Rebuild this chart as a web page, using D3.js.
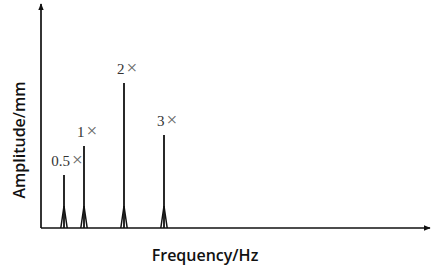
<!DOCTYPE html>
<html>
<head>
<meta charset="utf-8">
<script src="https://cdn.jsdelivr.net/npm/d3@7"></script>
<style>
  body { margin: 0; background: #fff; }
  svg { display: block; }
</style>
</head>
<body>
<div id="chart"></div>
<script>
// harmonic orders, amplitudes and labels
const orders = [0.5, 1, 2, 3];
const amplitudes = [0.53, 0.82, 1.45, 0.93];
const peakLabels = ["0.5", "1", "2", "3"];

const width = 440;
const height = 275;
const margin = {left: 41, right: 10, top: 4, bottom: 47};

const svg = d3.select("#chart")
  .append("svg")
  .attr("width", width)
  .attr("height", height);

let xScale = d3.scaleLinear()
  .domain([0, 9.6])
  .range([44, 428]);

let yScale = d3.scaleLinear()
  .domain([0, 2.24])
  .range([height - margin.bottom, margin.top]);

const base = yScale(0);

// arrowhead
svg.append("defs").append("marker")
  .attr("id", "arrow")
  .attr("viewBox", "0 0 10 10")
  .attr("refX", 9).attr("refY", 5)
  .attr("markerWidth", 7).attr("markerHeight", 7)
  .attr("markerUnits", "userSpaceOnUse")
  .attr("orient", "auto")
  .append("path")
  .attr("d", "M0,1L10,5L0,9Z")
  .attr("fill", "#111");

// axes
svg.append("line")
  .attr("x1", margin.left).attr("y1", base)
  .attr("x2", width - margin.right).attr("y2", base)
  .attr("stroke", "#111").attr("stroke-width", 1.7)
  .attr("marker-end", "url(#arrow)");

svg.append("line")
  .attr("x1", margin.left).attr("y1", base)
  .attr("x2", margin.left).attr("y2", margin.top)
  .attr("stroke", "#111").attr("stroke-width", 1.7)
  .attr("marker-end", "url(#arrow)");

const data = orders.map((o, i) => ({order: o, amp: amplitudes[i], label: peakLabels[i]}));

// spikes: thin line plus narrow triangle at the foot
const peaks = svg.selectAll("g.peak")
  .data(data)
  .enter()
  .append("g")
  .attr("class", "peak");

peaks.append("line")
  .attr("x1", d => xScale(d.order))
  .attr("x2", d => xScale(d.order))
  .attr("y1", base)
  .attr("y2", d => yScale(d.amp))
  .attr("stroke", "#111")
  .attr("stroke-width", 1.8);

peaks.append("path")
  .attr("d", d => {
    const x = xScale(d.order);
    return `M${x - 3.2},${base} L${x},${base - 22} L${x + 3.2},${base}`;
  })
  .attr("fill", "none")
  .attr("stroke", "#111")
  .attr("stroke-width", 1.5);

const lbl = peaks.append("text")
  .attr("x", d => xScale(d.order) + 3)
  .attr("y", d => yScale(d.amp) - 9)
  .attr("text-anchor", "middle")
  .attr("font-family", "Liberation Serif, serif")
  .attr("font-size", "15px")
  .attr("fill", "#333");

lbl.append("tspan").text(d => d.label);
lbl.append("tspan")
  .attr("dx", 2)
  .attr("font-size", "19px")
  .attr("fill", "#666")
  .text("×");

// axis titles
svg.append("text")
  .attr("x", 205)
  .attr("y", 261)
  .attr("text-anchor", "middle")
  .attr("font-family", "Open Sans, sans-serif")
  .attr("font-size", "16px")
  .attr("font-weight", 600)
  .attr("fill", "#111")
  .text("Frequency/Hz");

svg.append("text")
  .attr("transform", "translate(25,140) rotate(-90)")
  .attr("text-anchor", "middle")
  .attr("font-family", "Open Sans, sans-serif")
  .attr("font-size", "16px")
  .attr("font-weight", 600)
  .attr("fill", "#111")
  .text("Amplitude/mm");
</script>
</body>
</html>
